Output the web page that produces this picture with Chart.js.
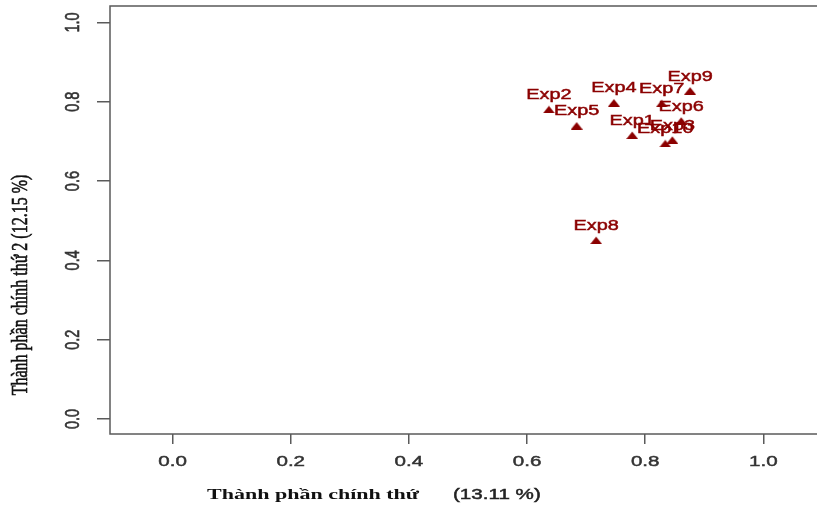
<!DOCTYPE html>
<html>
<head>
<meta charset="utf-8">
<script src="https://cdn.jsdelivr.net/npm/chart.js@4"></script>
<style>
  html, body { margin: 0; padding: 0; background: #fff; overflow: hidden; }
  canvas { display: block; }
</style>
</head>
<body>
<canvas id="pcaChart" width="830" height="506"></canvas>
<script>
// -------------------------
// DATA
// -------------------------
const expNames = ["Exp1", "Exp2", "Exp3", "Exp4", "Exp5", "Exp6", "Exp7", "Exp8", "Exp9", "Exp10"];
const pc1 = [0.778, 0.637, 0.846, 0.747, 0.684, 0.861, 0.828, 0.717, 0.876, 0.834];
const pc2 = [0.716, 0.781, 0.704, 0.798, 0.740, 0.752, 0.796, 0.451, 0.828, 0.695];
const xTicks = [0.0, 0.2, 0.4, 0.6, 0.8, 1.0];
const yTicks = [0.0, 0.2, 0.4, 0.6, 0.8, 1.0];
const xTitle = "Thành phần chính thứ";
const xTitlePct = "(13.11 %)";
const yTitle = "Thành phần chính thứ 2 (12.15 %)";

// the source picture is stretched sideways, so text is too
const SX = 1.42;
const RED = "#8b0000";
const SANS = "'Liberation Sans', Arial, sans-serif";
const SERIF = "'Liberation Serif', 'Times New Roman', serif";

// small wide triangle used as the point marker
const tri = document.createElement("canvas");
tri.width = 12; tri.height = 8;
(function () {
    const c = tri.getContext("2d");
    c.fillStyle = RED;
    c.beginPath();
    c.moveTo(0, 8); c.lineTo(6, 0.5); c.lineTo(12, 8);
    c.closePath();
    c.fill();
})();

// fill + thin stroke so the text looks as heavy as the blurry original
function stretchText(ctx, text, x, y, rotate, heavy) {
    ctx.save();
    ctx.translate(x, y);
    ctx.scale(SX, 1);
    if (rotate) ctx.rotate(-Math.PI / 2);
    ctx.fillText(text, 0, 0);
    if (heavy) {
        ctx.strokeStyle = ctx.fillStyle;
        ctx.lineWidth = 0.45;
        ctx.strokeText(text, 0, 0);
    }
    ctx.restore();
}

// box, tick labels, axis titles and point labels
const decorations = {
    id: "decorations",
    afterDatasetsDraw(chart) {
        const ctx = chart.ctx;
        const a = chart.chartArea;
        const xs = chart.scales.x, ys = chart.scales.y;

        ctx.save();
        ctx.strokeStyle = "#5a5a5a";
        ctx.lineWidth = 1.5;
        ctx.strokeRect(a.left, a.top, a.right - a.left, a.bottom - a.top);

        // point labels, drawn in order so later ones sit on top
        ctx.fillStyle = RED;
        ctx.font = "14px " + SANS;
        ctx.textAlign = "center";
        ctx.textBaseline = "middle";
        chart.getDatasetMeta(0).data.forEach((pt, i) => {
            stretchText(ctx, expNames[i], pt.x, pt.y - 14, false, true);
        });

        // tick labels
        ctx.fillStyle = "#333";
        ctx.font = "14.5px " + SANS;
        xTicks.forEach(v => {
            stretchText(ctx, v.toFixed(1), xs.getPixelForValue(v), 462, false, true);
        });
        yTicks.forEach(v => {
            stretchText(ctx, v.toFixed(1), 73, ys.getPixelForValue(v), true, true);
        });

        // axis titles
        ctx.textAlign = "left";
        ctx.fillStyle = "#111";
        ctx.font = "bold 15.5px " + SERIF;
        stretchText(ctx, xTitle, 207, 495, false, false);
        ctx.font = "14.5px " + SANS;
        ctx.fillStyle = "#222";
        stretchText(ctx, xTitlePct, 453, 495, false, true);

        ctx.textAlign = "center";
        ctx.fillStyle = "#111";
        ctx.font = "16px " + SERIF;
        stretchText(ctx, yTitle, 21, 285, true, true);
        ctx.restore();
    }
};

new Chart(document.getElementById("pcaChart"), {
    type: "scatter",
    data: {
        datasets: [{
            label: "PCA",
            data: pc1.map((x, i) => ({ x: x, y: pc2[i] })),
            pointStyle: tri,
            pointRadius: 5,
            pointHoverRadius: 5,
            backgroundColor: RED,
            borderColor: RED
        }]
    },
    options: {
        responsive: false,
        animation: false,
        devicePixelRatio: 1,
        layout: { padding: { top: 6, left: 0, right: 0, bottom: 0 } },
        plugins: { legend: { display: false }, tooltip: { enabled: false } },
        scales: {
            x: {
                type: "linear",
                min: -0.106,
                max: 1.1027,
                afterBuildTicks: s => { s.ticks = xTicks.map(v => ({ value: v })); },
                afterFit: s => { s.height = 72; },
                ticks: { display: false },
                grid: { drawOnChartArea: false, drawTicks: true, tickLength: 10, color: "#5a5a5a", lineWidth: 1.5 },
                border: { display: false }
            },
            y: {
                type: "linear",
                min: -0.038,
                max: 1.0416,
                afterBuildTicks: s => { s.ticks = yTicks.map(v => ({ value: v })); },
                afterFit: s => { s.width = 110; },
                ticks: { display: false },
                grid: { drawOnChartArea: false, drawTicks: true, tickLength: 13, color: "#5a5a5a", lineWidth: 1.5 },
                border: { display: false }
            }
        }
    },
    plugins: [decorations]
});
</script>
</body>
</html>
